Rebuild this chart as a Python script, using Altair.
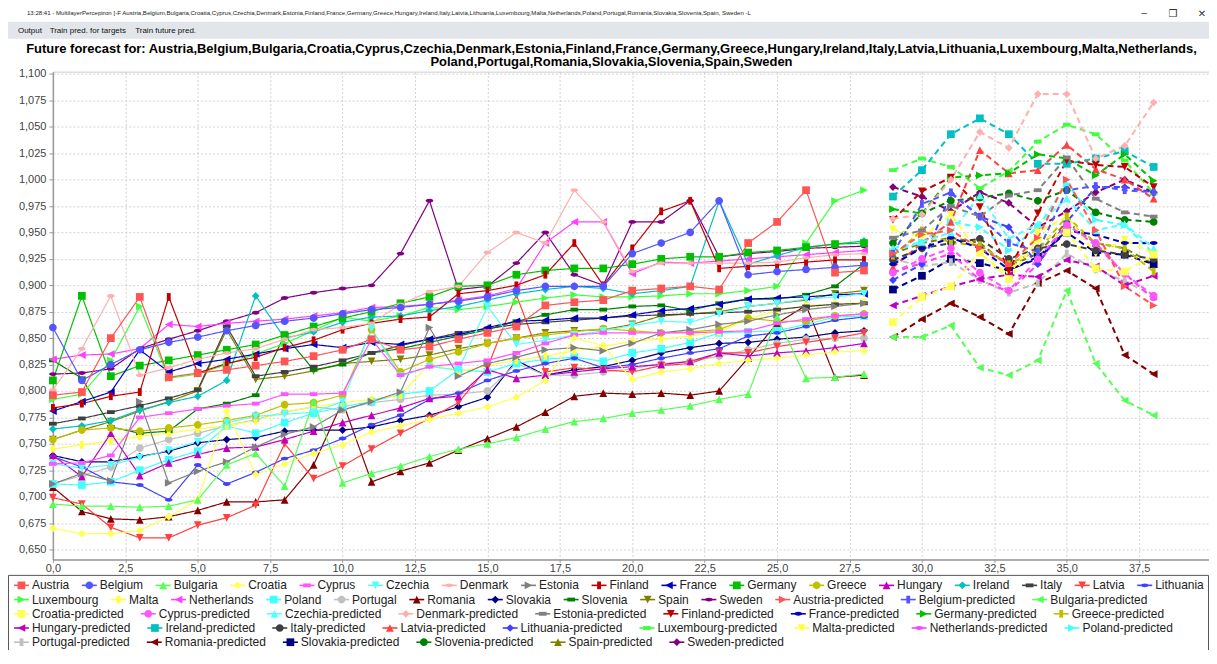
import altair as alt
import pandas as pd

# ---------------------------------------------------------------- data
countries = ["Austria", "Belgium", "Bulgaria", "Croatia", "Cyprus", "Czechia", "Denmark",
             "Estonia", "Finland", "France", "Germany", "Greece", "Hungary", "Ireland",
             "Italy", "Latvia", "Lithuania", "Luxembourg", "Malta", "Netherlands", "Poland",
             "Portugal", "Romania", "Slovakia", "Slovenia", "Spain", "Sweden"]

palette = ["#FF5555", "#5555FF", "#55FF55", "#FFFF55", "#FF55FF", "#55FFFF", "#FFAFAF",
           "#808080", "#C00000", "#0000C0", "#00C000", "#C0C000", "#C000C0", "#00C0C0",
           "#404040", "#FF4040", "#4040FF", "#40FF40", "#FFFF40", "#FF40FF", "#40FFFF",
           "#C0C0C0", "#800000", "#000080", "#008000", "#808000", "#800080"]

ACTUAL_T = list(range(0, 29))
PRED_T = list(range(29, 39))

# actual series, t = 0 .. 28
austria = [0.796, 0.799, 0.850, 0.889, 0.813, 0.817, 0.820, 0.824, 0.828, 0.833, 0.839, 0.849, 0.839, 0.842, 0.849, 0.855, 0.861, 0.881, 0.884, 0.886, 0.895, 0.897, 0.899, 0.896, 0.940, 0.960, 0.990, 0.912, 0.914]
belgium = [0.860, 0.810, 0.825, 0.839, 0.846, 0.851, 0.857, 0.862, 0.866, 0.869, 0.873, 0.877, 0.879, 0.882, 0.885, 0.889, 0.895, 0.899, 0.899, 0.899, 0.930, 0.940, 0.950, 0.980, 0.910, 0.913, 0.915, 0.917, 0.919]
bulgaria = [0.693, 0.691, 0.691, 0.690, 0.691, 0.697, 0.730, 0.741, 0.710, 0.790, 0.713, 0.722, 0.729, 0.738, 0.745, 0.750, 0.756, 0.764, 0.771, 0.774, 0.779, 0.782, 0.786, 0.792, 0.797, 0.870, 0.812, 0.813, 0.816]
croatia = [0.670, 0.665, 0.665, 0.668, 0.681, 0.697, 0.781, 0.721, 0.731, 0.741, 0.749, 0.761, 0.767, 0.773, 0.779, 0.785, 0.794, 0.810, 0.850, 0.843, 0.811, 0.818, 0.821, 0.826, 0.829, 0.831, 0.834, 0.837, 0.838]
cyprus = [0.731, 0.732, 0.739, 0.775, 0.779, 0.783, 0.786, 0.788, 0.797, 0.797, 0.798, 0.849, 0.815, 0.823, 0.826, 0.829, 0.836, 0.845, 0.853, 0.855, 0.855, 0.855, 0.855, 0.856, 0.857, 0.864, 0.868, 0.871, 0.873]
czechia = [0.731, 0.727, 0.730, 0.737, 0.744, 0.752, 0.770, 0.776, 0.778, 0.780, 0.790, 0.859, 0.814, 0.823, 0.820, 0.880, 0.844, 0.848, 0.853, 0.857, 0.862, 0.866, 0.865, 0.873, 0.880, 0.883, 0.887, 0.889, 0.892]
denmark = [0.801, 0.840, 0.890, 0.815, 0.822, 0.830, 0.836, 0.840, 0.849, 0.858, 0.860, 0.864, 0.882, 0.894, 0.899, 0.931, 0.950, 0.940, 0.990, 0.960, 0.913, 0.921, 0.921, 0.921, 0.921, 0.922, 0.926, 0.929, 0.930]
estonia = [0.712, 0.722, 0.715, 0.790, 0.713, 0.724, 0.733, 0.747, 0.759, 0.766, 0.782, 0.790, 0.799, 0.860, 0.814, 0.826, 0.832, 0.839, 0.841, 0.838, 0.845, 0.855, 0.858, 0.863, 0.866, 0.872, 0.877, 0.880, 0.883]
finland = [0.784, 0.788, 0.795, 0.799, 0.889, 0.817, 0.826, 0.832, 0.841, 0.848, 0.858, 0.864, 0.868, 0.870, 0.892, 0.895, 0.900, 0.910, 0.940, 0.900, 0.935, 0.970, 0.980, 0.916, 0.918, 0.919, 0.922, 0.924, 0.924]
france = [0.781, 0.790, 0.799, 0.839, 0.818, 0.826, 0.830, 0.835, 0.840, 0.844, 0.841, 0.846, 0.844, 0.849, 0.853, 0.860, 0.866, 0.867, 0.869, 0.869, 0.872, 0.876, 0.878, 0.882, 0.887, 0.888, 0.889, 0.891, 0.892]
germany = [0.810, 0.890, 0.814, 0.824, 0.829, 0.834, 0.839, 0.844, 0.853, 0.861, 0.869, 0.875, 0.883, 0.889, 0.899, 0.900, 0.910, 0.914, 0.916, 0.916, 0.920, 0.925, 0.927, 0.927, 0.931, 0.933, 0.936, 0.939, 0.940]
greece = [0.754, 0.763, 0.765, 0.762, 0.765, 0.768, 0.772, 0.777, 0.787, 0.789, 0.796, 0.858, 0.818, 0.830, 0.837, 0.845, 0.850, 0.853, 0.856, 0.859, 0.857, 0.855, 0.856, 0.858, 0.869, 0.866, 0.866, 0.871, 0.873]
hungary = [0.739, 0.719, 0.760, 0.720, 0.732, 0.740, 0.746, 0.747, 0.754, 0.762, 0.770, 0.777, 0.784, 0.793, 0.795, 0.820, 0.812, 0.815, 0.818, 0.821, 0.823, 0.825, 0.828, 0.836, 0.833, 0.836, 0.838, 0.841, 0.845]
ireland = [0.764, 0.767, 0.772, 0.782, 0.789, 0.795, 0.810, 0.890, 0.850, 0.856, 0.865, 0.870, 0.871, 0.876, 0.880, 0.886, 0.892, 0.896, 0.899, 0.897, 0.892, 0.895, 0.899, 0.980, 0.920, 0.928, 0.936, 0.939, 0.942]
italy = [0.769, 0.774, 0.780, 0.786, 0.793, 0.801, 0.861, 0.814, 0.818, 0.823, 0.829, 0.836, 0.843, 0.849, 0.855, 0.859, 0.863, 0.865, 0.867, 0.869, 0.871, 0.872, 0.873, 0.874, 0.875, 0.877, 0.880, 0.882, 0.883]
latvia = [0.699, 0.693, 0.671, 0.661, 0.661, 0.673, 0.680, 0.692, 0.750, 0.717, 0.729, 0.745, 0.760, 0.774, 0.789, 0.822, 0.891, 0.818, 0.822, 0.820, 0.818, 0.824, 0.826, 0.836, 0.836, 0.842, 0.846, 0.850, 0.855]
lithuania = [0.738, 0.728, 0.714, 0.711, 0.697, 0.730, 0.712, 0.723, 0.736, 0.744, 0.755, 0.768, 0.777, 0.792, 0.798, 0.810, 0.819, 0.826, 0.831, 0.822, 0.825, 0.831, 0.836, 0.840, 0.852, 0.855, 0.861, 0.867, 0.870]
luxembourg = [0.792, 0.797, 0.829, 0.880, 0.812, 0.816, 0.825, 0.835, 0.845, 0.857, 0.870, 0.866, 0.871, 0.879, 0.877, 0.880, 0.884, 0.888, 0.891, 0.889, 0.889, 0.890, 0.892, 0.892, 0.895, 0.899, 0.940, 0.980, 0.990]
malta = [0.745, 0.749, 0.753, 0.757, 0.760, 0.764, 0.767, 0.772, 0.780, 0.785, 0.789, 0.792, 0.796, 0.826, 0.818, 0.824, 0.829, 0.833, 0.838, 0.842, 0.847, 0.849, 0.852, 0.856, 0.868, 0.876, 0.881, 0.882, 0.884]
netherlands = [0.830, 0.834, 0.835, 0.840, 0.863, 0.861, 0.864, 0.866, 0.868, 0.871, 0.874, 0.879, 0.880, 0.882, 0.886, 0.890, 0.897, 0.940, 0.960, 0.960, 0.911, 0.922, 0.921, 0.923, 0.925, 0.927, 0.929, 0.931, 0.933]
poland = [0.712, 0.711, 0.714, 0.725, 0.735, 0.743, 0.767, 0.760, 0.770, 0.779, 0.785, 0.790, 0.797, 0.800, 0.820, 0.818, 0.826, 0.830, 0.832, 0.828, 0.836, 0.840, 0.846, 0.855, 0.856, 0.857, 0.863, 0.870, 0.871]
portugal = [0.712, 0.720, 0.728, 0.746, 0.754, 0.760, 0.767, 0.773, 0.780, 0.785, 0.782, 0.789, 0.792, 0.796, 0.797, 0.800, 0.826, 0.815, 0.815, 0.818, 0.821, 0.826, 0.828, 0.833, 0.839, 0.845, 0.849, 0.850, 0.850]
romania = [0.709, 0.686, 0.679, 0.678, 0.681, 0.687, 0.695, 0.695, 0.697, 0.730, 0.790, 0.714, 0.724, 0.732, 0.744, 0.755, 0.766, 0.780, 0.795, 0.798, 0.797, 0.798, 0.796, 0.800, 0.831, 0.864, 0.881, 0.813, 0.815]
slovakia = [0.739, 0.733, 0.733, 0.738, 0.743, 0.751, 0.754, 0.756, 0.762, 0.763, 0.763, 0.766, 0.772, 0.777, 0.785, 0.794, 0.829, 0.815, 0.820, 0.823, 0.829, 0.836, 0.841, 0.845, 0.846, 0.849, 0.851, 0.855, 0.857]
slovenia = [0.829, 0.812, 0.766, 0.760, 0.762, 0.783, 0.788, 0.796, 0.853, 0.820, 0.825, 0.836, 0.840, 0.846, 0.852, 0.858, 0.866, 0.872, 0.877, 0.877, 0.880, 0.881, 0.876, 0.883, 0.887, 0.887, 0.891, 0.899, 0.920]
spain = [0.754, 0.763, 0.771, 0.781, 0.790, 0.800, 0.858, 0.811, 0.814, 0.819, 0.826, 0.828, 0.830, 0.834, 0.840, 0.845, 0.850, 0.855, 0.857, 0.858, 0.863, 0.871, 0.873, 0.875, 0.880, 0.883, 0.886, 0.892, 0.895]
sweden = [0.816, 0.817, 0.821, 0.840, 0.849, 0.857, 0.866, 0.874, 0.888, 0.893, 0.897, 0.900, 0.930, 0.980, 0.896, 0.899, 0.921, 0.950, 0.910, 0.900, 0.960, 0.960, 0.980, 0.927, 0.930, 0.932, 0.935, 0.936, 0.937]

# predicted series, t = 29 .. 38
austria_p = [0.930, 0.948, 0.952, 0.935, 0.920, 0.945, 1.000, 0.952, 0.899, 0.881]
belgium_p = [0.930, 0.977, 0.988, 0.965, 0.940, 0.932, 0.990, 0.994, 0.990, 0.988]
bulgaria_p = [0.851, 0.851, 0.862, 0.822, 0.815, 0.829, 0.895, 0.826, 0.791, 0.777]
croatia_p = [0.865, 0.889, 0.899, 0.931, 0.906, 0.943, 0.950, 0.916, 0.913, 0.929]
cyprus_p = [0.912, 0.925, 0.935, 0.912, 0.895, 0.925, 0.957, 0.940, 0.911, 0.890]
czechia_p = [0.935, 0.941, 0.950, 0.985, 0.944, 0.958, 0.982, 0.952, 0.958, 0.935]
denmark_p = [0.963, 0.967, 1.000, 1.045, 1.030, 1.081, 1.081, 1.020, 1.032, 1.073]
estonia_p = [0.945, 0.952, 0.975, 0.965, 0.985, 0.990, 1.021, 0.982, 0.969, 0.965]
finland_p = [0.962, 0.989, 1.002, 0.974, 0.914, 0.968, 1.018, 1.014, 1.012, 0.993]
france_p = [0.920, 0.935, 0.945, 0.935, 0.915, 0.925, 0.952, 0.948, 0.940, 0.940]
germany_p = [0.972, 0.968, 1.002, 1.004, 1.006, 1.024, 1.020, 1.004, 1.024, 0.999]
greece_p = [0.928, 0.952, 0.940, 0.938, 0.920, 0.933, 0.965, 0.940, 0.935, 0.913]
hungary_p = [0.881, 0.890, 0.899, 0.906, 0.910, 0.908, 0.924, 0.918, 0.900, 0.909]
ireland_p = [0.984, 1.009, 1.043, 1.058, 1.043, 1.015, 1.015, 1.020, 1.027, 1.012]
italy_p = [0.924, 0.935, 0.940, 0.944, 0.925, 0.935, 0.939, 0.933, 0.929, 0.925]
latvia_p = [0.917, 0.940, 0.960, 1.028, 1.006, 1.009, 1.033, 1.010, 1.000, 0.982]
lithuania_p = [0.905, 0.920, 0.987, 0.965, 0.955, 0.920, 0.960, 0.993, 0.993, 0.988]
luxembourg_p = [1.009, 1.020, 1.012, 0.992, 1.008, 1.036, 1.052, 1.043, 1.018, 0.987]
malta_p = [0.953, 0.945, 0.967, 0.930, 0.910, 0.950, 0.965, 0.930, 0.943, 0.930]
netherlands_p = [0.912, 0.921, 0.930, 0.905, 0.894, 0.920, 0.957, 0.938, 0.911, 0.887]
poland_p = [0.932, 0.941, 0.960, 0.955, 0.933, 0.955, 0.996, 0.962, 0.957, 0.930]
portugal_p = [0.925, 0.918, 0.922, 0.905, 0.893, 0.902, 0.930, 0.915, 0.904, 0.890]
romania_p = [0.851, 0.868, 0.883, 0.870, 0.854, 0.902, 0.914, 0.897, 0.834, 0.816]
slovakia_p = [0.896, 0.909, 0.925, 0.921, 0.914, 0.927, 0.950, 0.931, 0.929, 0.920]
slovenia_p = [0.940, 0.968, 0.980, 0.983, 0.987, 0.980, 0.990, 0.969, 0.962, 0.960]
spain_p = [0.930, 0.940, 0.945, 0.940, 0.918, 0.930, 0.960, 0.940, 0.935, 0.920]
sweden_p = [0.993, 0.984, 0.970, 0.988, 0.978, 0.955, 0.970, 0.988, 1.000, 0.988]

actual_values = [austria, belgium, bulgaria, croatia, cyprus, czechia, denmark, estonia,
                 finland, france, germany, greece, hungary, ireland, italy, latvia,
                 lithuania, luxembourg, malta, netherlands, poland, portugal, romania,
                 slovakia, slovenia, spain, sweden]
pred_values = [austria_p, belgium_p, bulgaria_p, croatia_p, cyprus_p, czechia_p, denmark_p,
               estonia_p, finland_p, france_p, germany_p, greece_p, hungary_p, ireland_p,
               italy_p, latvia_p, lithuania_p, luxembourg_p, malta_p, netherlands_p,
               poland_p, portugal_p, romania_p, slovakia_p, slovenia_p, spain_p, sweden_p]

x_ticks = [0.0, 2.5, 5.0, 7.5, 10.0, 12.5, 15.0, 17.5, 20.0, 22.5, 25.0, 27.5, 30.0, 32.5, 35.0, 37.5]
y_ticks = [0.650, 0.675, 0.700, 0.725, 0.750, 0.775, 0.800, 0.825, 0.850, 0.875, 0.900,
           0.925, 0.950, 0.975, 1.000, 1.025, 1.050, 1.075, 1.100]

title_lines = ["Future forecast for: " + ",".join(countries[:20]) + ",",
               ",".join(countries[20:])]
window_title = ("13:28:41 - MultilayerPerceptron [-F " + ",".join(countries[:-1])
                + ", " + countries[-1] + " -L")
tab_labels = ["Output", "Train pred. for targets", "Train future pred."]

# ---------------------------------------------------------------- styling helpers
SQ = "M-1,-1H1V1H-1Z"
CI = "M1,0A1,1,0,1,1,-1,0A1,1,0,1,1,1,0Z"
TU = "M0,-1L1,1L-1,1Z"
DI = "M0,-1L1,0L0,1L-1,0Z"
HR = "M-1,-0.5H1V0.5H-1Z"
TD = "M-1,-1L1,-1L0,1Z"
EL = "M1,0A1,0.5,0,1,1,-1,0A1,0.5,0,1,1,1,0Z"
TR = "M-1,-1L1,0L-1,1Z"
VR = "M-0.5,-1H0.5V1H-0.5Z"
TL = "M1,-1L1,1L-1,0Z"
SHAPES = [SQ, CI, TU, DI, HR, TD, EL, TR, VR, TL]

series_names = countries + [c + "-predicted" for c in countries]
series_colors = palette + palette
series_shapes = [SHAPES[i % 10] for i in range(len(series_names))]

# Arial advance widths (1/1000 em) for legend layout
_W = dict(zip("ABCDEFGHIJKLMNOPQRSTUVWXYZ",
              [667, 667, 722, 722, 667, 611, 778, 722, 278, 500, 667, 556, 833, 722, 778,
               667, 778, 722, 667, 611, 722, 667, 944, 667, 667, 611]))
_W.update(dict(zip("abcdefghijklmnopqrstuvwxyz",
                   [556, 556, 500, 556, 556, 278, 556, 556, 222, 222, 500, 222, 833, 556,
                    556, 556, 556, 333, 500, 278, 556, 500, 722, 500, 500, 500])))
_W.update({"-": 333, " ": 278, ",": 278, ".": 278, ":": 278, "[": 278, "]": 278})


def text_em(s):
    return sum(_W.get(c, 556) for c in s) / 1000.0


# ---------------------------------------------------------------- tables
rows = []
for idx in reversed(range(len(series_names))):   # first series drawn on top
    if idx < 27:
        ts, vs, kind = ACTUAL_T, actual_values[idx], "actual"
    else:
        ts, vs, kind = PRED_T, pred_values[idx - 27], "predicted"
    for t, v in zip(ts, vs):
        rows.append({"series": series_names[idx], "t": t, "v": v, "kind": kind})
df = pd.DataFrame(rows)

legend_rows = [series_names[0:17], series_names[17:30], series_names[30:39],
               series_names[39:48], series_names[48:54]]
LEG_FS = 12
leg = []
for r, names in enumerate(legend_rows):
    lab = -21.0
    for nm in names:
        leg.append({"series": nm, "label": nm, "row": r, "lab_x": lab,
                    "l1": lab - 18, "l2": lab - 3, "sx": lab - 10.5})
        extra = 4.4 if nm.endswith("-predicted") else 0.0
        lab += text_em(nm) * LEG_FS + extra + 30.7
leg_df = pd.DataFrame(leg)

one = pd.DataFrame({"k": [0]})

# ---------------------------------------------------------------- scales / axes
xs = alt.Scale(domain=[0, 39.91], nice=False, zero=False)
ys = alt.Scale(domain=[0.6406, 1.1022], nice=False, zero=False)
color_scale = alt.Scale(domain=series_names, range=series_colors)
shape_scale = alt.Scale(domain=series_names, range=series_shapes)
lx = alt.Scale(domain=[0, 1000], range=[0, 1000], nice=False, zero=False)
ly = alt.Scale(domain=[0, 4], range=[515, 572], nice=False, zero=False)

x_axis = alt.Axis(values=x_ticks, title=None,
                  labelExpr="replace(format(datum.value, '.1f'), '.', ',')",
                  tickSize=3, labelPadding=0, labelFlush=False, labelOverlap=False)
y_axis = alt.Axis(values=y_ticks, title=None,
                  labelExpr="replace(format(datum.value, '.3f'), '.', ',')",
                  tickSize=4, labelPadding=3, labelFlush=False, labelOverlap=False)

# ---------------------------------------------------------------- layers
band = alt.Chart(one).mark_rect(fill="#e2e5ea").encode(
    x=alt.value(-45), x2=alt.value(1159), y=alt.value(-50), y2=alt.value(-33))

lines = alt.Chart(df).mark_line().encode(
    x=alt.X("t:Q", scale=xs, axis=x_axis),
    y=alt.Y("v:Q", scale=ys, axis=y_axis),
    color=alt.Color("series:N", scale=color_scale, legend=None),
    detail="series:N",
    strokeDash=alt.StrokeDash("kind:N", legend=None,
                              scale=alt.Scale(domain=["actual", "predicted"],
                                              range=[[1, 0], [6, 4]])),
    strokeWidth=alt.StrokeWidth("kind:N", legend=None,
                                scale=alt.Scale(domain=["actual", "predicted"],
                                                range=[1.2, 2.0])),
    order="t:Q",
)

points = alt.Chart(df).mark_point(filled=True, size=60, opacity=1, strokeWidth=0).encode(
    x=alt.X("t:Q", scale=xs, axis=None),
    y=alt.Y("v:Q", scale=ys, axis=None),
    color=alt.Color("series:N", scale=color_scale, legend=None),
    shape=alt.Shape("series:N", scale=shape_scale, legend=None),
)

leg_box = alt.Chart(one).mark_rect(fill="white", stroke="#555555", strokeWidth=1).encode(
    x=alt.value(-44.5), x2=alt.value(1158.5), y=alt.value(505), y2=alt.value(620))

leg_lines = alt.Chart(leg_df).mark_rule(strokeWidth=1.6).encode(
    x=alt.X("l1:Q", scale=lx, axis=None), x2="l2:Q",
    y=alt.Y("row:Q", scale=ly, axis=None),
    color=alt.Color("series:N", scale=color_scale, legend=None),
)
leg_marks = alt.Chart(leg_df).mark_point(filled=True, size=60, opacity=1, strokeWidth=0).encode(
    x=alt.X("sx:Q", scale=lx, axis=None),
    y=alt.Y("row:Q", scale=ly, axis=None),
    color=alt.Color("series:N", scale=color_scale, legend=None),
    shape=alt.Shape("series:N", scale=shape_scale, legend=None),
)
leg_text = alt.Chart(leg_df).mark_text(align="left", baseline="middle", fontSize=LEG_FS,
                                       font="Liberation Sans", color="#222222").encode(
    x=alt.X("lab_x:Q", scale=lx, axis=None),
    y=alt.Y("row:Q", scale=ly, axis=None),
    text="label:N",
)


def label(text, x, y, size, weight="normal", align="center", color="#000000",
          font="Liberation Sans"):
    return alt.Chart(one).mark_text(text=text, fontSize=size, fontWeight=weight,
                                    align=align, baseline="middle", color=color,
                                    font=font).encode(x=alt.value(x), y=alt.value(y))


wt_size = round(728.0 / text_em(window_title), 2)
texts = [
    label(window_title, -26, -59, wt_size, align="left", color="#222222"),
    label("\u2500", 1094, -58, 9, color="#333333", font="DejaVu Sans"),
    label("\u2750", 1123, -58, 10, color="#333333", font="DejaVu Sans"),
    label("\u2715", 1152, -58, 10, color="#333333", font="DejaVu Sans"),
    label(tab_labels[0], -23, -41, 8, color="#111111"),
    label(tab_labels[1], 35, -41, 8, color="#111111"),
    label(tab_labels[2], 113, -41, 8, color="#111111"),
    label(title_lines[0], 560, -23, 13, weight="bold"),
    label(title_lines[1], 560, -10, 13, weight="bold"),
]

chart = alt.layer(band, lines, points, leg_box, leg_lines, leg_marks, leg_text, *texts).resolve_scale(
    x="independent", y="independent"
).properties(
    width=1159, height=489,
    padding={"left": 45, "top": 63, "right": 0, "bottom": 90},
    autosize=alt.AutoSizeParams(type="none"),
    background="white",
).configure(font="Liberation Sans").configure_view(
    stroke="#cfcfcf", strokeWidth=1
).configure_axis(
    labelFont="Liberation Sans", labelFontSize=11, labelColor="#444444",
    domainColor="#9a9a9a", domainWidth=1.5, tickColor="#9a9a9a", tickWidth=1,
    gridColor="#c6c6c6", gridDash=[2, 2], gridWidth=0.8,
)

chart.save("out.html", embed_options={"renderer": "svg", "actions": False})
